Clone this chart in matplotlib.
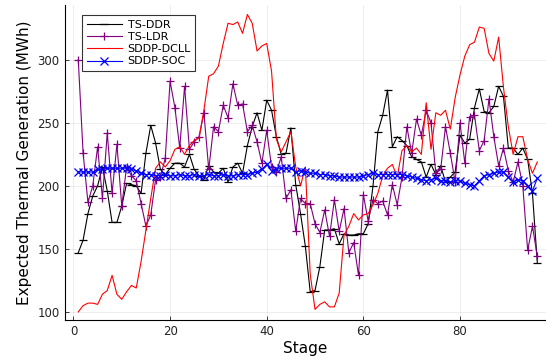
import matplotlib
matplotlib.use("Agg")
from matplotlib import pyplot as plt
import numpy as np

# stages 1..96
stages = np.arange(1, 97)

# TS-DDR (black)
ts_ddr = [147, 157, 178, 192, 200, 215, 196, 171, 171, 184,
          202, 201, 200, 194, 226, 248, 234, 213, 209, 214,
          218, 218, 215, 225, 213, 208, 205, 216, 211, 210,
          214, 203, 215, 218, 210, 232, 247, 258, 244, 268,
          260, 239, 225, 226, 246, 201, 178, 152, 116, 117,
          136, 165, 165, 166, 154, 162, 161, 161, 162, 162,
          170, 200, 243, 256, 276, 231, 239, 236, 232, 223,
          221, 219, 207, 217, 209, 216, 203, 207, 211, 240,
          234, 237, 262, 277, 259, 258, 263, 279, 271, 230,
          230, 225, 230, 221, 194, 139]

# TS-LDR (purple)
ts_ldr = [300, 226, 187, 200, 231, 190, 242, 194, 233, 184,
          215, 208, 204, 186, 168, 177, 205, 207, 222, 283,
          262, 230, 279, 229, 235, 239, 258, 213, 247, 243,
          264, 254, 281, 264, 265, 243, 248, 235, 218, 244,
          215, 211, 223, 190, 197, 164, 190, 186, 186, 170,
          163, 181, 160, 189, 164, 182, 147, 155, 129, 193,
          172, 189, 186, 188, 177, 201, 185, 207, 247, 226,
          253, 240, 260, 250, 210, 213, 247, 226, 203, 250,
          218, 255, 256, 228, 236, 269, 239, 216, 230, 212,
          203, 219, 200, 149, 168, 144]

# SDDP-DCLL (red)
sddp_dcll = [100, 105, 107, 107, 106, 114, 117, 129, 114, 110,
             116, 121, 119, 140, 165, 190, 214, 219, 215, 220,
             229, 231, 225, 232, 236, 238, 260, 287, 289, 295,
             313, 329, 328, 330, 321, 336, 329, 307, 311, 313,
             291, 237, 227, 235, 243, 215, 200, 215, 130, 102,
             106, 108, 104, 104, 115, 161, 168, 178, 173, 177,
             178, 185, 194, 208, 214, 217, 207, 228, 232, 227,
             230, 225, 266, 229, 258, 256, 260, 245, 270, 288,
             303, 312, 314, 326, 325, 305, 299, 318, 278, 247,
             225, 239, 239, 221, 210, 219]

# SDDP-SOC (blue)
sddp_soc = [211, 211, 211, 211, 213, 213, 214, 214, 214, 214,
            214, 213, 212, 210, 209, 209, 208, 208, 209, 208,
            208, 209, 208, 208, 209, 208, 208, 209, 208, 208,
            209, 208, 208, 209, 209, 209, 210, 211, 213, 217,
            212, 213, 214, 214, 214, 211, 212, 211, 210, 210,
            209, 209, 208, 208, 207, 207, 207, 207, 207, 208,
            209, 210, 209, 209, 209, 209, 209, 209, 208, 207,
            206, 205, 204, 205, 206, 204, 204, 203, 204, 204,
            202, 201, 200, 204, 208, 209, 210, 211, 211, 207,
            203, 205, 204, 200, 196, 206]

W, H = 546, 360
fig = plt.figure(figsize=(W / 100, H / 100), dpi=100)
ax = fig.add_axes([64.5 / W, 1 - 320 / H, (546 - 64.5) / W, (320 - 5) / H])

ax.plot(stages, ts_ddr, color="black", lw=0.8, marker="_", ms=6, mew=0.9, label="TS-DDR")
ax.plot(stages, ts_ldr, color="purple", lw=0.8, marker="+", ms=6, mew=0.9, label="TS-LDR")
ax.plot(stages, sddp_dcll, color="red", lw=0.8, label="SDDP-DCLL")
ax.plot(stages, sddp_soc, color="blue", lw=0.8, marker="x", ms=5.5, mew=0.9, label="SDDP-SOC")

ax.set_xlim(-1.85, 97.8)
ax.set_ylim(93.6, 343.5)
ax.set_xticks([0, 20, 40, 60, 80])
ax.set_yticks([100, 150, 200, 250, 300])
ax.grid(True, color="black", alpha=0.08, lw=0.6)
ax.set_axisbelow(True)
for s in ("top", "right"):
    ax.spines[s].set_visible(False)
ax.spines["left"].set_linewidth(0.8)
ax.spines["bottom"].set_linewidth(0.8)
ax.tick_params(direction="in", length=3, width=0.6, labelsize=8.5, colors="#222222")

ax.set_xlabel("Stage", fontsize=11, labelpad=2)
ax.set_ylabel("Expected Thermal Generation (MWh)", fontsize=11, labelpad=4)

leg = ax.legend(loc="upper left", bbox_to_anchor=(0.025, 0.985), fontsize=8,
                frameon=True, fancybox=False, edgecolor="black",
                handlelength=3.2, borderpad=0.4, labelspacing=0.2,
                handletextpad=0.5)
leg.get_frame().set_linewidth(0.8)

fig.savefig("out.png", dpi=100)
